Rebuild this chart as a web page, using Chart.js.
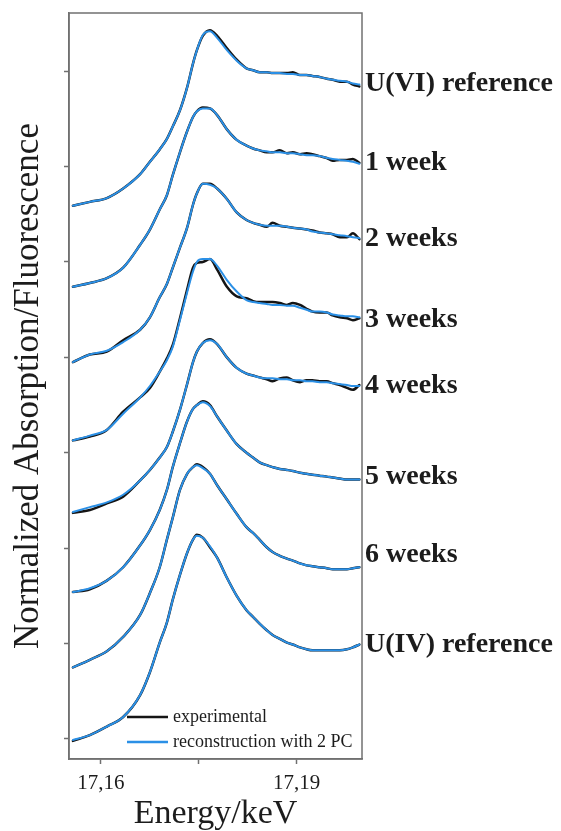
<!DOCTYPE html>
<html>
<head>
<meta charset="utf-8">
<script src="https://cdn.jsdelivr.net/npm/chart.js@4.4.1/dist/chart.umd.min.js"></script>
<style>
  html, body { margin: 0; padding: 0; background: #fff; }
  #wrap { width: 561px; height: 831px; }
</style>
</head>
<body>
<div id="wrap"><canvas id="chart"></canvas></div>
<script>
// energy grid (keV) shared by all spectra
const energy = [17.1557, 17.1583, 17.1609, 17.1634, 17.1660, 17.1675, 17.1690, 17.1701, 17.1710, 17.1721,
  17.1732, 17.1741, 17.1747, 17.1756, 17.1767, 17.1778, 17.1793, 17.1808, 17.1823, 17.1833,
  17.1843, 17.1854, 17.1863, 17.1874, 17.1885, 17.1894, 17.1905, 17.1915, 17.1924, 17.1935,
  17.1946, 17.1955, 17.1966, 17.1977, 17.1986, 17.1996]

const sampleNames = ["U(VI) reference", "1 week", "2 weeks", "3 weeks", "4 weeks", "5 weeks", "6 weeks", "U(IV) reference"]
// vertical position of each sample name (same units as the stacked spectra)
const labelLevels = [6.87, 6.04, 5.24, 4.39, 3.70, 2.75, 1.93, 0.99]

const xTicks = [17.16, 17.175, 17.19]
const xTickLabels = ["17,16", "", "17,19"]
const yTicks = [0, 1, 2, 3, 4, 5, 6, 7]
const legendLabels = ["experimental", "reconstruction with 2 PC"]

// stacked normalized spectra (offset per sample)
const uviExp = [5.59, 5.63, 5.67, 5.77, 5.92, 6.05, 6.18, 6.29, 6.42, 6.59, 6.83, 7.08, 7.22, 7.37, 7.43, 7.37, 7.24, 7.12, 7.03, 7.01, 6.99, 6.99, 6.98, 6.98, 6.98, 6.99, 6.96, 6.96, 6.95, 6.94, 6.92, 6.91, 6.89, 6.89, 6.86, 6.84]
const uviFit = [5.59, 5.63, 5.67, 5.77, 5.92, 6.05, 6.18, 6.29, 6.42, 6.59, 6.83, 7.08, 7.22, 7.38, 7.42, 7.35, 7.22, 7.11, 7.03, 7.01, 6.99, 6.99, 6.98, 6.98, 6.97, 6.97, 6.96, 6.96, 6.95, 6.94, 6.92, 6.91, 6.90, 6.89, 6.87, 6.86]

const week1Exp = [4.74, 4.78, 4.83, 4.94, 5.18, 5.34, 5.55, 5.70, 5.91, 6.15, 6.37, 6.52, 6.58, 6.62, 6.61, 6.54, 6.39, 6.28, 6.22, 6.19, 6.17, 6.15, 6.15, 6.17, 6.14, 6.15, 6.13, 6.14, 6.13, 6.11, 6.09, 6.06, 6.07, 6.07, 6.08, 6.04]
const week1Fit = [4.74, 4.78, 4.83, 4.94, 5.18, 5.34, 5.55, 5.70, 5.91, 6.15, 6.37, 6.52, 6.58, 6.61, 6.61, 6.54, 6.39, 6.28, 6.22, 6.19, 6.17, 6.16, 6.15, 6.15, 6.14, 6.14, 6.13, 6.12, 6.12, 6.11, 6.09, 6.08, 6.07, 6.06, 6.05, 6.03]

const week2Exp = [3.95, 4.03, 4.06, 4.18, 4.29, 4.42, 4.63, 4.77, 4.94, 5.15, 5.36, 5.60, 5.72, 5.82, 5.82, 5.77, 5.66, 5.52, 5.44, 5.41, 5.39, 5.37, 5.41, 5.38, 5.37, 5.36, 5.35, 5.34, 5.33, 5.31, 5.30, 5.29, 5.26, 5.26, 5.30, 5.24]
const week2Fit = [3.95, 4.03, 4.07, 4.16, 4.29, 4.42, 4.63, 4.77, 4.94, 5.15, 5.36, 5.60, 5.72, 5.82, 5.81, 5.77, 5.66, 5.52, 5.44, 5.41, 5.39, 5.38, 5.38, 5.38, 5.37, 5.36, 5.35, 5.34, 5.32, 5.31, 5.30, 5.29, 5.28, 5.27, 5.26, 5.25]

const week3Exp = [3.13, 3.17, 3.24, 3.43, 3.58, 3.68, 3.85, 3.99, 4.13, 4.41, 4.71, 4.94, 4.99, 5.00, 5.03, 4.92, 4.74, 4.64, 4.62, 4.59, 4.58, 4.58, 4.58, 4.57, 4.55, 4.57, 4.55, 4.51, 4.48, 4.47, 4.47, 4.44, 4.42, 4.41, 4.39, 4.41]
const week3Fit = [3.13, 3.18, 3.24, 3.41, 3.58, 3.70, 3.85, 3.97, 4.11, 4.39, 4.68, 4.90, 5.00, 5.03, 5.03, 4.96, 4.81, 4.69, 4.60, 4.58, 4.57, 4.56, 4.55, 4.55, 4.54, 4.54, 4.52, 4.50, 4.48, 4.48, 4.47, 4.45, 4.44, 4.43, 4.43, 4.42]

const week4Exp = [2.37, 2.40, 2.47, 2.54, 2.71, 2.82, 2.95, 3.06, 3.22, 3.45, 3.72, 3.95, 4.06, 4.15, 4.19, 4.14, 4.00, 3.89, 3.83, 3.81, 3.79, 3.77, 3.75, 3.78, 3.79, 3.76, 3.74, 3.76, 3.76, 3.75, 3.75, 3.73, 3.71, 3.68, 3.66, 3.71]
const week4Fit = [2.38, 2.43, 2.48, 2.56, 2.71, 2.82, 2.95, 3.06, 3.22, 3.45, 3.72, 3.95, 4.06, 4.15, 4.18, 4.14, 4.00, 3.89, 3.83, 3.81, 3.79, 3.78, 3.78, 3.77, 3.77, 3.76, 3.76, 3.75, 3.75, 3.74, 3.74, 3.73, 3.72, 3.71, 3.70, 3.70]

const week5Exp = [1.54, 1.57, 1.66, 1.80, 2.03, 2.19, 2.40, 2.61, 2.85, 3.10, 3.33, 3.46, 3.50, 3.54, 3.50, 3.38, 3.23, 3.09, 3.00, 2.95, 2.90, 2.87, 2.85, 2.83, 2.82, 2.81, 2.79, 2.78, 2.77, 2.76, 2.75, 2.74, 2.73, 2.72, 2.72, 2.72]
const week5Fit = [1.54, 1.58, 1.66, 1.80, 2.03, 2.19, 2.40, 2.61, 2.85, 3.10, 3.33, 3.46, 3.50, 3.53, 3.49, 3.38, 3.23, 3.09, 3.00, 2.95, 2.90, 2.87, 2.85, 2.83, 2.82, 2.81, 2.79, 2.78, 2.77, 2.76, 2.75, 2.74, 2.73, 2.72, 2.72, 2.72]

const week6Exp = [0.75, 0.83, 0.92, 1.07, 1.30, 1.53, 1.80, 2.09, 2.32, 2.61, 2.78, 2.85, 2.88, 2.85, 2.78, 2.66, 2.51, 2.36, 2.22, 2.16, 2.09, 2.01, 1.96, 1.92, 1.89, 1.87, 1.84, 1.82, 1.81, 1.80, 1.79, 1.78, 1.78, 1.78, 1.79, 1.80]
const week6Fit = [0.75, 0.83, 0.92, 1.07, 1.30, 1.53, 1.80, 2.09, 2.32, 2.61, 2.78, 2.85, 2.87, 2.84, 2.78, 2.66, 2.51, 2.36, 2.22, 2.16, 2.09, 2.01, 1.96, 1.92, 1.89, 1.87, 1.84, 1.82, 1.81, 1.80, 1.79, 1.78, 1.78, 1.78, 1.79, 1.80]

const uivExp = [-0.02, 0.04, 0.13, 0.23, 0.46, 0.70, 1.01, 1.22, 1.46, 1.72, 1.95, 2.09, 2.14, 2.11, 2.01, 1.90, 1.69, 1.50, 1.35, 1.28, 1.21, 1.14, 1.09, 1.05, 1.01, 0.99, 0.96, 0.94, 0.93, 0.93, 0.93, 0.93, 0.93, 0.94, 0.96, 0.99]
const uivFit = [-0.01, 0.04, 0.13, 0.23, 0.46, 0.70, 1.01, 1.22, 1.46, 1.72, 1.95, 2.09, 2.13, 2.11, 2.02, 1.90, 1.69, 1.50, 1.35, 1.28, 1.21, 1.14, 1.09, 1.05, 1.01, 0.99, 0.96, 0.94, 0.93, 0.93, 0.93, 0.93, 0.93, 0.94, 0.96, 0.99]

const expSeries = [uviExp, week1Exp, week2Exp, week3Exp, week4Exp, week5Exp, week6Exp, uivExp]
const fitSeries = [uviFit, week1Fit, week2Fit, week3Fit, week4Fit, week5Fit, week6Fit, uivFit]

const EXP_COLOR = "#151515"
const FIT_COLOR = "#2b90e6"
const TEXT_COLOR = "#1c1c1c"
const FRAME_COLOR = "#707070"
const SERIF = "'Liberation Serif', 'Times New Roman', serif"

Chart.defaults.font.family = SERIF

const toPoints = (values) => values.map((v, i) => ({ x: energy[i], y: v }))

const datasets = []
sampleNames.forEach((name, i) => {
  datasets.push({
    label: name + " - " + legendLabels[0],
    data: toPoints(expSeries[i]),
    borderColor: EXP_COLOR,
    borderWidth: 2.5,
    order: 1,
  })
  datasets.push({
    label: name + " - " + legendLabels[1],
    data: toPoints(fitSeries[i]),
    borderColor: FIT_COLOR,
    borderWidth: 2,
    order: 0,
  })
})

// box around the plot area
const framePlugin = {
  id: "frame",
  afterDatasetsDraw(chart) {
    const { ctx, chartArea: a } = chart
    ctx.save()
    ctx.strokeStyle = FRAME_COLOR
    ctx.lineWidth = 1.5
    ctx.strokeRect(a.left, a.top, a.right - a.left, a.bottom - a.top)
    ctx.restore()
  },
}

// sample names to the right of the plot
const sampleLabelPlugin = {
  id: "sampleLabels",
  afterDraw(chart) {
    const { ctx, chartArea: a, scales } = chart
    ctx.save()
    ctx.fillStyle = TEXT_COLOR
    ctx.font = "bold 28px " + SERIF
    ctx.textAlign = "left"
    ctx.textBaseline = "middle"
    sampleNames.forEach((name, i) => {
      ctx.fillText(name, a.right + 3, scales.y.getPixelForValue(labelLevels[i]))
    })
    ctx.restore()
  },
}

// small legend in the lower part of the plot
const legendPlugin = {
  id: "innerLegend",
  afterDraw(chart) {
    const { ctx, chartArea: a } = chart
    const colors = [EXP_COLOR, FIT_COLOR]
    ctx.save()
    ctx.font = "18px " + SERIF
    ctx.textBaseline = "middle"
    legendLabels.forEach((text, i) => {
      const y = a.bottom - 42 + i * 25
      ctx.strokeStyle = colors[i]
      ctx.lineWidth = 2.5
      ctx.beginPath()
      ctx.moveTo(a.left + 58, y)
      ctx.lineTo(a.left + 99, y)
      ctx.stroke()
      ctx.fillStyle = TEXT_COLOR
      ctx.fillText(text, a.left + 104, y)
    })
    ctx.restore()
  },
}

new Chart(document.getElementById("chart"), {
  type: "line",
  data: { datasets },
  plugins: [framePlugin, sampleLabelPlugin, legendPlugin],
  options: {
    responsive: true,
    maintainAspectRatio: false,
    animation: false,
    layout: { padding: { top: 13, right: 199, left: 0, bottom: 0 } },
    elements: {
      point: { radius: 0 },
      line: { cubicInterpolationMode: "monotone", borderJoinStyle: "round", borderCapStyle: "round" },
    },
    plugins: { legend: { display: false }, tooltip: { enabled: false } },
    scales: {
      x: {
        type: "linear",
        min: 17.1551,
        max: 17.2,
        afterBuildTicks: (s) => { s.ticks = xTicks.map((v) => ({ value: v })) },
        afterFit: (s) => { s.height = 72 },
        grid: { drawOnChartArea: false, drawTicks: true, tickLength: 5, tickColor: FRAME_COLOR, tickWidth: 1.5 },
        border: { display: true, color: FRAME_COLOR, width: 1.5 },
        ticks: {
          autoSkip: false,
          maxRotation: 0,
          padding: 7,
          color: TEXT_COLOR,
          font: { size: 21 },
          callback: (v, i) => xTickLabels[i],
        },
        title: {
          display: true,
          text: "Energy/keV",
          color: TEXT_COLOR,
          font: { size: 34, lineHeight: 1 },
          padding: { top: 0, bottom: 0 },
        },
      },
      y: {
        type: "linear",
        min: -0.21,
        max: 7.61,
        afterBuildTicks: (s) => { s.ticks = yTicks.map((v) => ({ value: v })) },
        afterFit: (s) => { s.width = 69 },
        grid: { drawOnChartArea: false, drawTicks: true, tickLength: 5, tickColor: FRAME_COLOR, tickWidth: 1.5 },
        border: { display: true, color: FRAME_COLOR, width: 1.5 },
        ticks: { display: false },
        title: {
          display: true,
          text: "Normalized Absorption/Fluorescence",
          color: TEXT_COLOR,
          font: { size: 35, lineHeight: 1.2 },
          padding: { top: 8, bottom: 0 },
        },
      },
    },
  },
})
</script>
</body>
</html>
